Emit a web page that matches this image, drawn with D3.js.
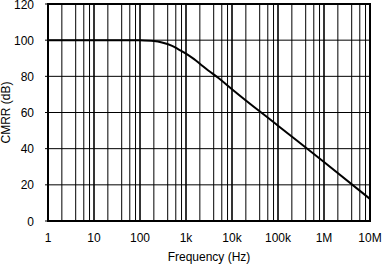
<!DOCTYPE html>
<html>
<head>
<meta charset="utf-8">
<script src="https://cdn.jsdelivr.net/npm/d3@7"></script>
<style>
  html, body { margin: 0; padding: 0; background: #fff; }
  svg { display: block; }
  text { font-family: "Liberation Sans", Arial, sans-serif; font-size: 12px; fill: #000; }
</style>
</head>
<body>
<div id="chart"></div>
<script>
// curve: frequency (Hz) and CMRR (dB)
const freqHz = [1, 10, 50, 100, 200, 300, 500, 700, 1e3, 1.5e3, 2e3, 3e3, 5e3, 7e3, 1e4, 1e5, 1e6, 1e7];
const cmrrDb = [100, 100, 100, 99.9, 99.5, 98.7, 96.8, 94.8, 92.6, 89.5, 87.0, 83.4, 79.2, 76.2, 72.9, 52.7, 32.6, 12.2];

const xTickValues = [1, 10, 100, 1e3, 1e4, 1e5, 1e6, 1e7];
const xTickLabels = ["1", "10", "100", "1k", "10k", "100k", "1M", "10M"];
const yTickValues = [0, 20, 40, 60, 80, 100, 120];
const minorSteps = [2, 4, 6, 8];

const width = 382, height = 264;
const margin = { top: 4, right: 12, bottom: 43, left: 48 };

const svg = d3.select("#chart").append("svg")
  .attr("width", width)
  .attr("height", height);

const x = d3.scaleLog()
  .domain([1, 1e7])
  .range([margin.left, width - margin.right]);

const y = d3.scaleLinear()
  .domain([0, 120])
  .range([height - margin.bottom, margin.top]);

// minor vertical grid (2,4,6,8 per decade)
const minorVals = [];
xTickValues.slice(0, -1).forEach(d => minorSteps.forEach(m => minorVals.push(d * m)));

svg.append("g").selectAll("line.minor")
  .data(minorVals)
  .enter().append("line")
  .attr("class", "minor")
  .attr("x1", d => x(d)).attr("x2", d => x(d))
  .attr("y1", y(0)).attr("y2", y(120))
  .attr("stroke", "#000")
  .attr("stroke-width", 1);

// decade lines, a bit heavier
svg.append("g").selectAll("line.major")
  .data(xTickValues)
  .enter().append("line")
  .attr("class", "major")
  .attr("x1", d => x(d)).attr("x2", d => x(d))
  .attr("y1", y(0)).attr("y2", y(120))
  .attr("stroke", "#000")
  .attr("stroke-width", 1.6);

// horizontal grid
svg.append("g").selectAll("line.hgrid")
  .data(yTickValues)
  .enter().append("line")
  .attr("class", "hgrid")
  .attr("x1", x(1)).attr("x2", x(1e7))
  .attr("y1", d => y(d)).attr("y2", d => y(d))
  .attr("stroke", "#000")
  .attr("stroke-width", 1);

// small ticks left of the frame
svg.append("g").selectAll("line.ytick")
  .data(yTickValues)
  .enter().append("line")
  .attr("x1", x(1) - 3).attr("x2", x(1))
  .attr("y1", d => y(d)).attr("y2", d => y(d))
  .attr("stroke", "#000");

// frame
svg.append("rect")
  .attr("x", x(1)).attr("y", y(120))
  .attr("width", x(1e7) - x(1))
  .attr("height", y(0) - y(120))
  .attr("fill", "none")
  .attr("stroke", "#000")
  .attr("stroke-width", 2);

// curve
const data = freqHz.map((f, i) => ({ f, v: cmrrDb[i] }));
const line = d3.line()
  .x(d => x(d.f))
  .y(d => y(d.v))
  .curve(d3.curveMonotoneX);

svg.append("path")
  .datum(data)
  .attr("d", line)
  .attr("fill", "none")
  .attr("stroke", "#000")
  .attr("stroke-width", 2);

// tick labels
svg.append("g").selectAll("text.ylab")
  .data(yTickValues)
  .enter().append("text")
  .attr("x", 34)
  .attr("y", d => y(d) + 4.5)
  .attr("text-anchor", "end")
  .text(d => d);

svg.append("g").selectAll("text.xlab")
  .data(xTickValues)
  .enter().append("text")
  .attr("x", d => x(d))
  .attr("y", 242)
  .attr("text-anchor", "middle")
  .text((d, i) => xTickLabels[i]);

// axis titles
svg.append("text")
  .attr("x", (x(1) + x(1e7)) / 2)
  .attr("y", 261)
  .attr("text-anchor", "middle")
  .text("Frequency (Hz)");

svg.append("text")
  .attr("transform", `translate(10, ${(y(0) + y(120)) / 2}) rotate(-90)`)
  .attr("text-anchor", "middle")
  .text("CMRR (dB)");
</script>
</body>
</html>
